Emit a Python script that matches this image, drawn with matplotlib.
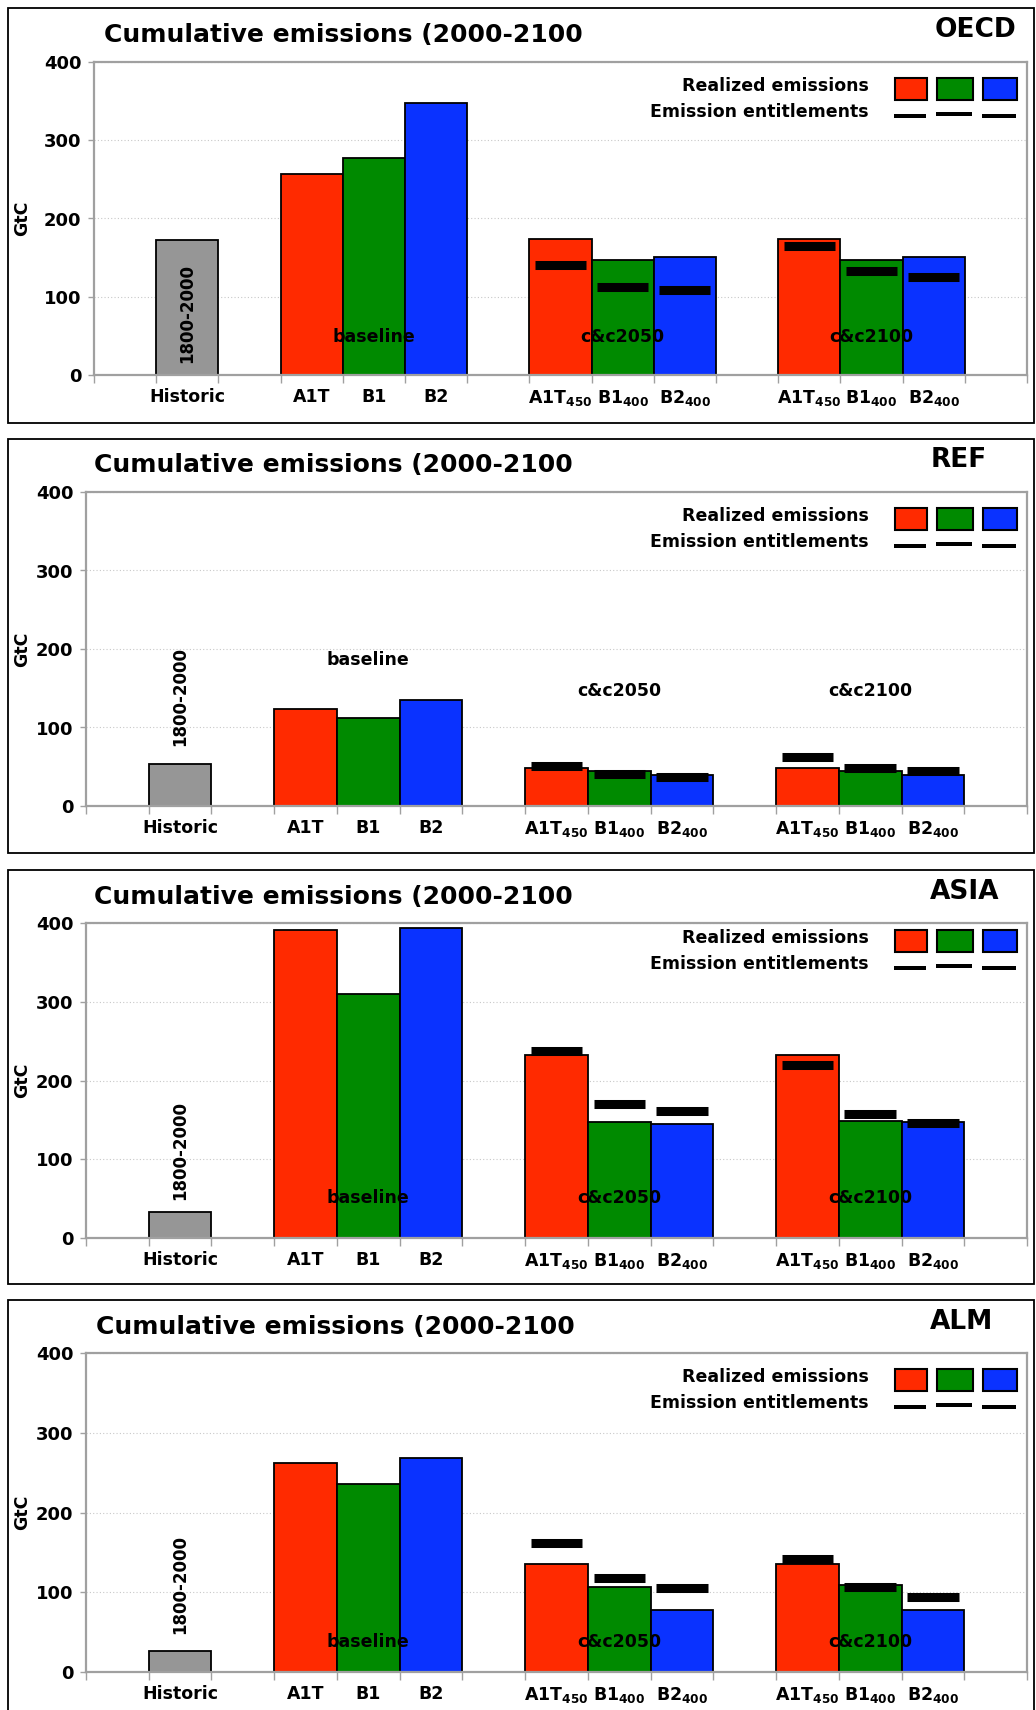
import matplotlib
matplotlib.use('Agg')
import matplotlib.pyplot as plt
from matplotlib.patches import Rectangle

plt.rcParams['font.family'] = ['DejaVu Sans']
plt.rcParams['mathtext.fontset'] = 'dejavusans'

# ---------------- data ----------------
regions = ['OECD', 'REF', 'ASIA', 'ALM']
title_text = 'Cumulative emissions (2000-2100'
tick_labels = ['', 'Historic', '',
               'A1T', 'B1', 'B2', '',
               r'$\mathbf{A1T_{450}}$', r'$\mathbf{B1_{400}}$', r'$\mathbf{B2_{400}}$', '',
               r'$\mathbf{A1T_{450}}$', r'$\mathbf{B1_{400}}$', r'$\mathbf{B2_{400}}$', '']
bar_slots = [1, 3, 4, 5, 7, 8, 9, 11, 12, 13]
entitle_slots = [7, 8, 9, 11, 12, 13]
group_labels = ['baseline', 'c&c2050', 'c&c2100']
group_label_slots = [4, 8, 12]
yticks = [0, 100, 200, 300, 400]

# realized: Historic, baseline A1T/B1/B2, c&c2050 A1T/B1/B2, c&c2100 A1T/B1/B2
oecd_realized = [172, 257, 277, 347, 174, 147, 151, 174, 147, 151]
oecd_entitle = [140, 113, 109, 165, 133, 125]
ref_realized = [54, 124, 112, 135, 48, 45, 39, 48, 45, 39]
ref_entitle = [51, 41, 37, 63, 48, 45]
asia_realized = [33, 391, 310, 394, 232, 147, 145, 232, 148, 147]
asia_entitle = [238, 170, 161, 220, 157, 146]
alm_realized = [26, 262, 236, 268, 135, 106, 78, 135, 109, 78]
alm_entitle = [162, 118, 105, 142, 106, 94]

realized = [oecd_realized, ref_realized, asia_realized, alm_realized]
entitle = [oecd_entitle, ref_entitle, asia_entitle, alm_entitle]

# ---------------- style / layout ----------------
RED, GREEN, BLUE, GRAY = '#FF2A00', '#008A00', '#0A32FF', '#969696'
bar_colors = [GRAY] + [RED, GREEN, BLUE] * 3
AX_GRAY = '#A0A0A0'

W, H = 1036, 1710
fig = plt.figure(figsize=(W / 100, H / 100), dpi=100)

def fx(x):
    return x / W

def fy(y):
    return 1 - y / H

layouts = [
    dict(frame=(8, 423), ax=(94, 62, 1027, 375), title=(104, 35), reg=(1016, 30),
         leg_dy=0, grp_y=[49, 49, 49], hist_y=78),
    dict(frame=(439, 853), ax=(86, 492, 1027, 806), title=(94, 465), reg=(987, 460),
         leg_dy=0, grp_y=[186, 146, 146], hist_y=139),
    dict(frame=(870, 1284), ax=(86, 923, 1027, 1238), title=(94, 897), reg=(999, 892),
         leg_dy=-9, grp_y=[51, 51, 51], hist_y=111),
    dict(frame=(1300, 1712), ax=(86, 1353, 1027, 1672), title=(96, 1327), reg=(993, 1322),
         leg_dy=0, grp_y=[37, 37, 37], hist_y=110),
]

for i, lay in enumerate(layouts):
    ft, fb = lay['frame']
    fig.patches.append(Rectangle((fx(8), fy(fb)), fx(1034 - 8), (fb - ft) / H,
                                 transform=fig.transFigure, fill=False,
                                 edgecolor='black', lw=1.3, zorder=0))
    l, t, r, b = lay['ax']
    ax = fig.add_axes([fx(l), fy(b), (r - l) / W, (b - t) / H])
    ax.set_xlim(-0.5, 14.5)
    ax.set_ylim(0, 400)

    # bars
    ax.bar(bar_slots, realized[i], width=1.0, color=bar_colors,
           edgecolor='black', linewidth=1.3, zorder=2)
    # entitlements
    xs = entitle_slots
    ax.hlines(entitle[i], [x - 0.41 for x in xs], [x + 0.41 for x in xs],
              colors='black', linewidth=6.5, capstyle='butt', zorder=3)

    # axes styling
    for s in ax.spines.values():
        s.set_color(AX_GRAY)
        s.set_linewidth(1.6)
    ax.set_yticks(yticks)
    ax.set_yticklabels([str(v) for v in yticks], fontsize=13, fontweight='bold')
    ax.tick_params(axis='y', length=4, color=AX_GRAY, width=1, pad=5)
    ax.yaxis.grid(True, linestyle=(0, (1, 2)), color='#C8C8C8', linewidth=0.8)
    ax.set_axisbelow(True)
    ax.set_xticks(range(15))
    ax.set_xticklabels(tick_labels, fontsize=12.5, fontweight='bold')
    ax.set_xticks([k + 0.5 for k in range(-1, 15)], minor=True)
    ax.tick_params(axis='x', which='major', length=0, pad=9)
    ax.tick_params(axis='x', which='minor', length=6, color=AX_GRAY, width=1)
    ax.set_ylabel('GtC', fontsize=12.5, fontweight='bold')
    ax.yaxis.set_label_coords((31 - l) / (r - l), 0.5)

    # group labels and historic label
    for g, sl, gy in zip(group_labels, group_label_slots, lay['grp_y']):
        ax.text(sl, gy, g, ha='center', va='center', fontsize=12.5,
                fontweight='bold', zorder=5)
    ax.text(1, lay['hist_y'], '1800-2000', rotation=90, ha='center', va='center',
            fontsize=12, fontweight='bold', zorder=5)

    # title and region
    tx, ty = lay['title']
    fig.text(fx(tx), fy(ty), title_text, ha='left', va='center',
             fontsize=18, fontweight='bold')
    rx, ry = lay['reg']
    fig.text(fx(rx), fy(ry), regions[i], ha='right', va='center',
             fontsize=19, fontweight='bold')

    # legend (figure pixel coordinates)
    dy = lay['leg_dy']
    fig.text(fx(r - 158), fy(t + 24 + dy), 'Realized emissions', ha='right',
             va='center', fontsize=12.5, fontweight='bold')
    fig.text(fx(r - 158), fy(t + 50 + dy), 'Emission entitlements', ha='right',
             va='center', fontsize=12.5, fontweight='bold')
    sq = [(r - 132, r - 100), (r - 90, r - 54), (r - 44, r - 10)]
    for (x0, x1), c, ddy in zip(sq, [RED, GREEN, BLUE], [0, -2, 0]):
        fig.patches.append(Rectangle((fx(x0), fy(t + 38 + dy)), (x1 - x0) / W, 22 / H,
                                     transform=fig.transFigure, facecolor=c,
                                     edgecolor='black', lw=1.5))
        fig.patches.append(Rectangle((fx(x0 - 1), fy(t + 56 + dy + ddy)), (x1 - x0) / W, 4 / H,
                                     transform=fig.transFigure, facecolor='black',
                                     edgecolor='none'))

fig.savefig('out.png', dpi=100)
